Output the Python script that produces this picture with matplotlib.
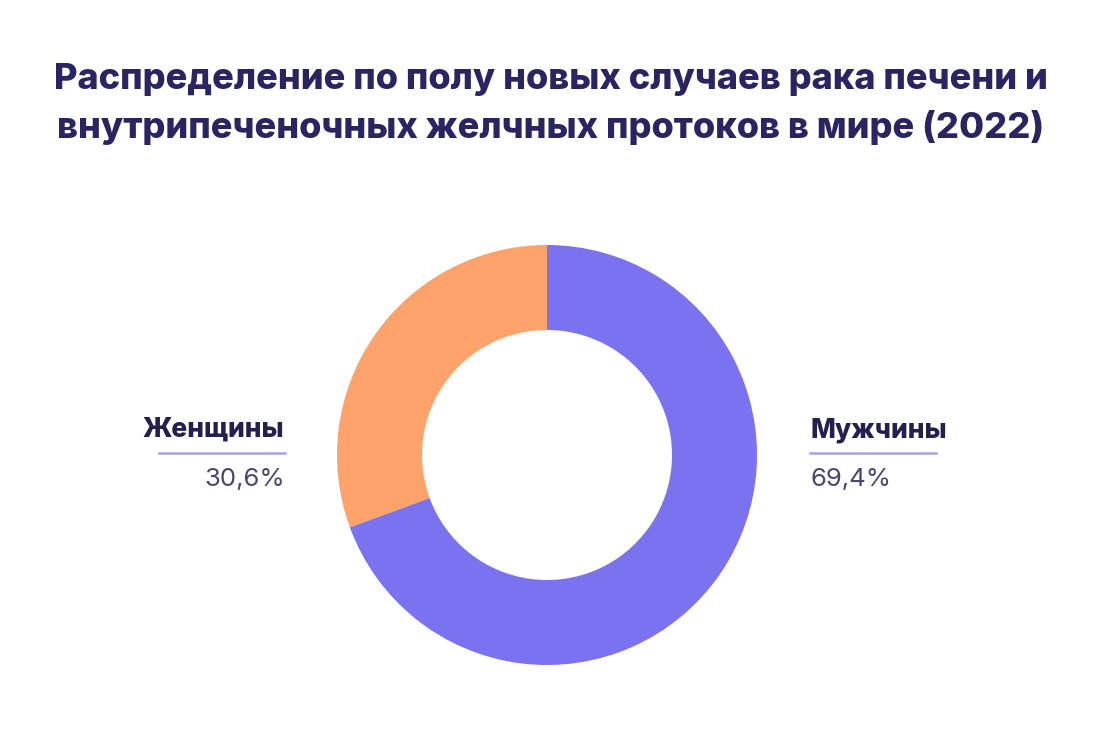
import matplotlib
matplotlib.use("Agg")
import matplotlib.pyplot as plt
from matplotlib.lines import Line2D

categories = ["Женщины", "Мужчины"]
values = [30.6, 69.4]
value_labels = ["30,6%", "69,4%"]
colors = ["#FFA36C", "#7B72F0"]
title = "Распределение по полу новых случаев рака печени и\nвнутрипеченочных желчных протоков в мире (2022)"

W, H = 1100, 739
fig = plt.figure(figsize=(W / 100, H / 100), dpi=100)
fig.patch.set_facecolor("white")

# donut axes: center (547,455), radius 210 px
cx, cy, r = 547, 455, 210
ax = fig.add_axes([(cx - r) / W, 1 - (cy + r) / H, 2 * r / W, 2 * r / H])
ax.pie(values, colors=colors, startangle=90, counterclock=True,
       radius=1.0, wedgeprops=dict(width=85 / 210, edgecolor="none"))
ax.set_xlim(-1, 1)
ax.set_ylim(-1, 1)
ax.set_aspect("equal")
ax.axis("off")

fig.text(551 / W, 1 - 104 / H, title, ha="center", va="center",
         fontsize=26, fontweight="heavy", color="#2A2562", family="Inter",
         linespacing=1.5)

title_color = "#23204F"
val_color = "#4A4868"
line_color = "#A9A3E6"

# left label
fig.text(284 / W, 1 - 430 / H, categories[0], ha="right", va="center",
         fontsize=19, fontweight="heavy", color=title_color, family="Inter")
fig.add_artist(Line2D([159 / W, 285 / W], [1 - 453 / H, 1 - 453 / H],
                      color=line_color, lw=1.8, transform=fig.transFigure))
fig.text(285 / W, 1 - 480 / H, value_labels[0], ha="right", va="center",
         fontsize=18.5, color=val_color, family="Inter")

# right label
fig.text(810 / W, 1 - 430 / H, categories[1], ha="left", va="center",
         fontsize=19, fontweight="heavy", color=title_color, family="Inter")
fig.add_artist(Line2D([810 / W, 936 / W], [1 - 453 / H, 1 - 453 / H],
                      color=line_color, lw=1.8, transform=fig.transFigure))
fig.text(810 / W, 1 - 480 / H, value_labels[1], ha="left", va="center",
         fontsize=18.5, color=val_color, family="Inter")

fig.savefig("out.png", dpi=100, facecolor="white")
